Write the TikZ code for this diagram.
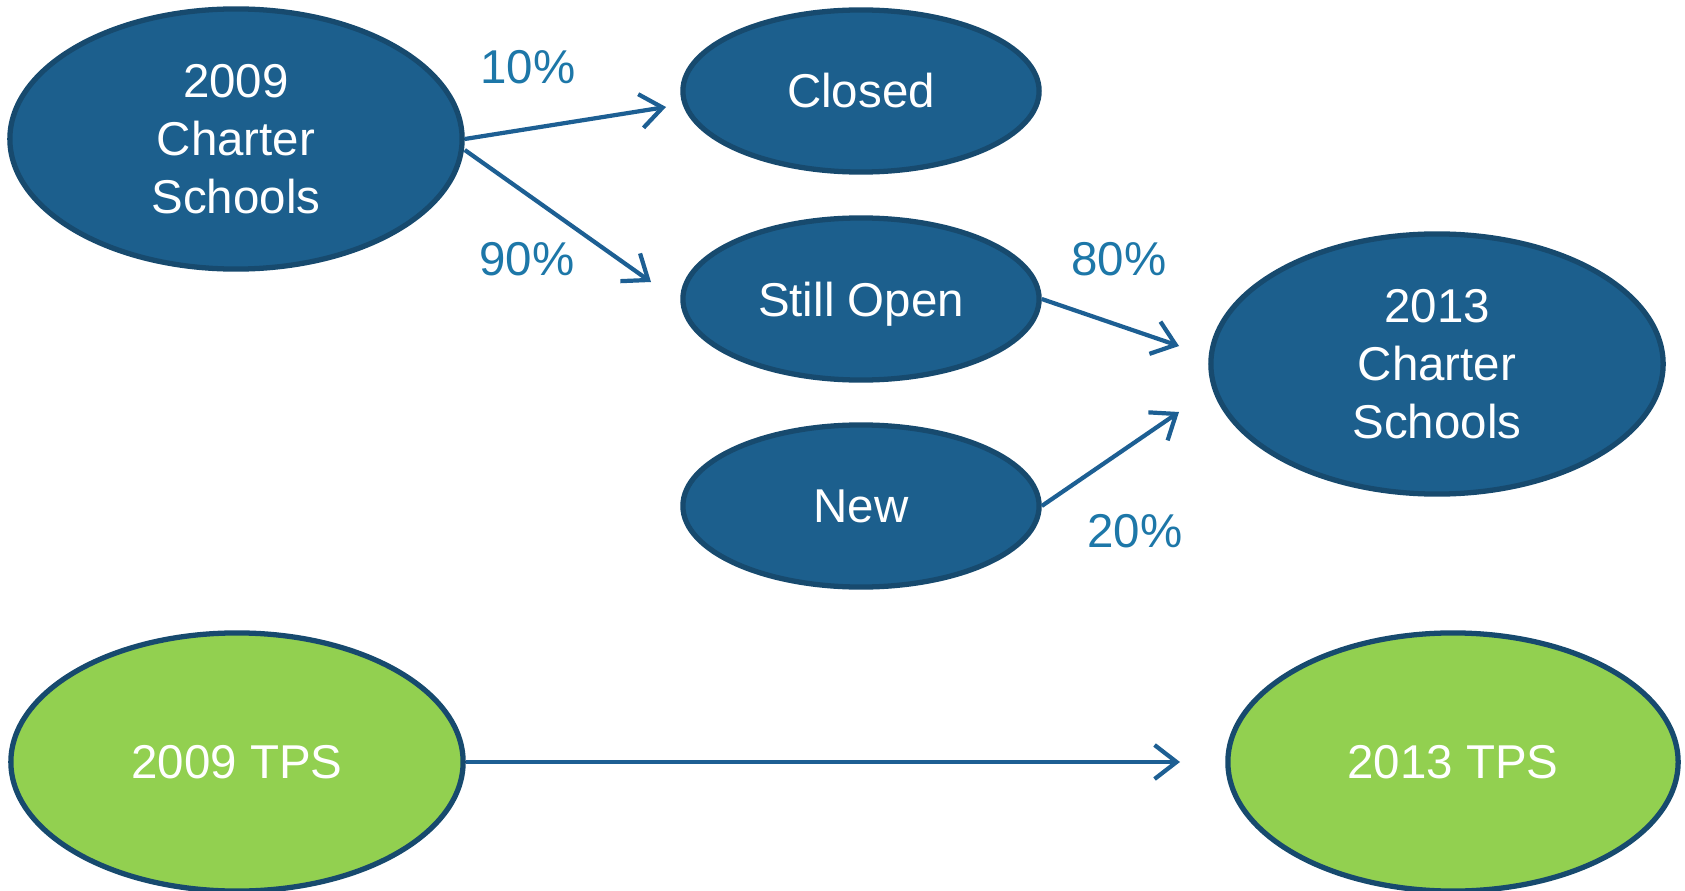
\documentclass[tikz,border=0pt]{standalone}
\usepackage{fontspec}
\setmainfont{Liberation Sans}
\usetikzlibrary{arrows.meta}
\usetikzlibrary{shapes.geometric}
\definecolor{schoolblue}{HTML}{1C5F8D}
\definecolor{rimblue}{HTML}{174A6E}
\definecolor{tpsgreen}{HTML}{92D050}
\definecolor{arrowblue}{HTML}{1D5F93}
\definecolor{pctblue}{HTML}{1D77A8}

\begin{document}
\begin{tikzpicture}[x=0.01cm,y=-0.01cm]
                \useasboundingbox (0,0) rectangle (1685,891);
                \begin{scope}[every node/.style={ellipse,draw=rimblue,line width=1.5pt,
                    fill=schoolblue,text=white,align=center,inner sep=0pt,
                    font=\fontsize{13.5}{16.5}\selectfont}]
                    \node[minimum width=4.52cm,minimum height=2.6cm] (cs09) at (236,139) {2009\\Charter\\Schools};
                    \node[minimum width=3.56cm,minimum height=1.62cm] (closed) at (861,91) {Closed};
                    \node[minimum width=3.56cm,minimum height=1.62cm,text depth=0pt] (open) at (861,299) {Still Open};
                    \node[minimum width=3.56cm,minimum height=1.62cm] (new) at (861,506) {New};
                    \node[minimum width=4.52cm,minimum height=2.6cm] (cs13) at (1437,364) {2013\\Charter\\Schools};
                    \node[minimum width=4.52cm,minimum height=2.58cm,fill=tpsgreen] (tps09) at (237,762) {2009 TPS};
                    \node[minimum width=4.5cm,minimum height=2.58cm,fill=tpsgreen] (tps13) at (1453,762) {2013 TPS};
                \end{scope}

                % arrow ends stop short of the ellipses
                \coordinate (toclosed) at (666,107);
                \coordinate (toopen) at (651,282);
                \coordinate (fromopen) at (1179,346);
                \coordinate (fromnew) at (1179,412);
                \coordinate (totps) at (1180,762);

                \begin{scope}[>={Straight Barb[length=2.2mm,width=3.4mm,line width=1.2pt]},
                    every edge/.style={draw=arrowblue,line width=1.2pt}]
                    \path [->] (cs09.east) edge (toclosed);
                    \path [->] ([yshift=-0.11cm]cs09.east) edge (toopen);

                    \path [->] (open.east) edge (fromopen);
                    \path [->] (new.east) edge (fromnew);

                    \path [->] (tps09.east) edge (totps);
                \end{scope}

                \begin{scope}[every node/.style={text=pctblue,font=\fontsize{13.5}{16}\selectfont}]
                    \node (p10) at (528,67) {10\%};
                    \node (p90) at (527,259) {90\%};
                    \node (p80) at (1119,259) {80\%};
                    \node (p20) at (1135,531) {20\%};
                \end{scope}
            \end{tikzpicture}
\end{document}
